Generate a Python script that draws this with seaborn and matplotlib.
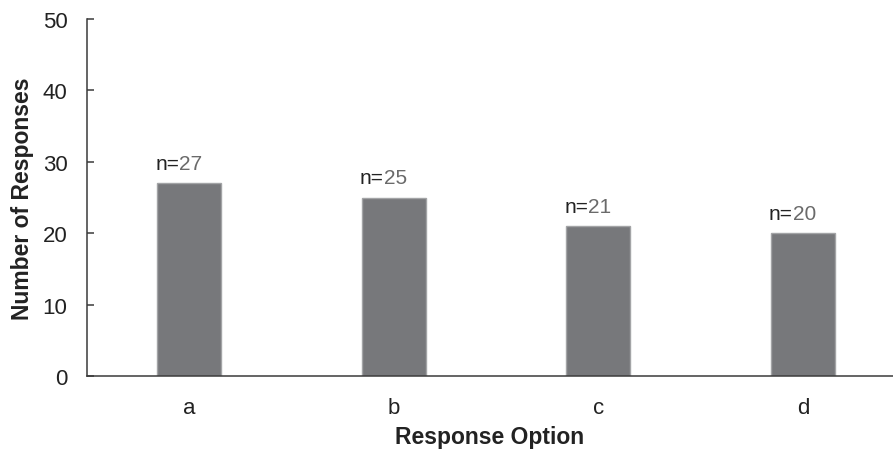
import matplotlib
matplotlib.use("Agg")
import matplotlib.pyplot as plt
import seaborn as sns
import pandas as pd

options = ["a", "b", "c", "d"]
responses = [27, 25, 21, 20]
y_ticks = [0, 10, 20, 30, 40, 50]

sns.set_style("white")
plt.rcParams["font.family"] = ["Liberation Sans", "DejaVu Sans"]

df = pd.DataFrame({"option": options, "count": responses})

fig = plt.figure(figsize=(8.93, 4.52), dpi=100)
ax = fig.add_axes([87 / 893, 1 - 377 / 452, 1 - 87 / 893, (377 - 20) / 452])

bar_w = 0.313
sns.barplot(data=df, x="option", y="count", ax=ax, width=bar_w,
            color="#77787b", saturation=1, edgecolor="#a3a4a6", linewidth=1.0)

ax.set_xlim(-0.5, 3.44)
ax.set_ylim(0, 50)
ax.set_yticks(y_ticks)

for spine in ["top", "right"]:
    ax.spines[spine].set_visible(False)
for spine in ["left", "bottom"]:
    ax.spines[spine].set_color("#3a3a3a")
    ax.spines[spine].set_linewidth(1.1)

ax.tick_params(axis="y", direction="in", length=5, width=1.1, color="#3a3a3a",
               labelsize=16, labelcolor="#222222", pad=14, left=True)
ax.tick_params(axis="x", length=0, labelsize=16, labelcolor="#222222", pad=15)

ax.set_xlabel("Response Option", fontsize=16.5, fontweight="bold",
              color="#222222", labelpad=5)
ax.set_ylabel("Number of Responses", fontsize=16.5, fontweight="bold",
              color="#222222", labelpad=6)

# "n=" in dark, the count in gray, starting just left of each bar
for i, v in enumerate(responses):
    t = ax.annotate("n=", xy=(i - bar_w / 2, v), xytext=(-2, 14),
                    textcoords="offset pixels", ha="left", va="baseline",
                    fontsize=15, color="#222222")
    ax.annotate(str(v), xy=(1, 0), xycoords=t, ha="left", va="bottom",
                fontsize=15, color="#6a6a6a")

fig.savefig("out.png", dpi=100)
